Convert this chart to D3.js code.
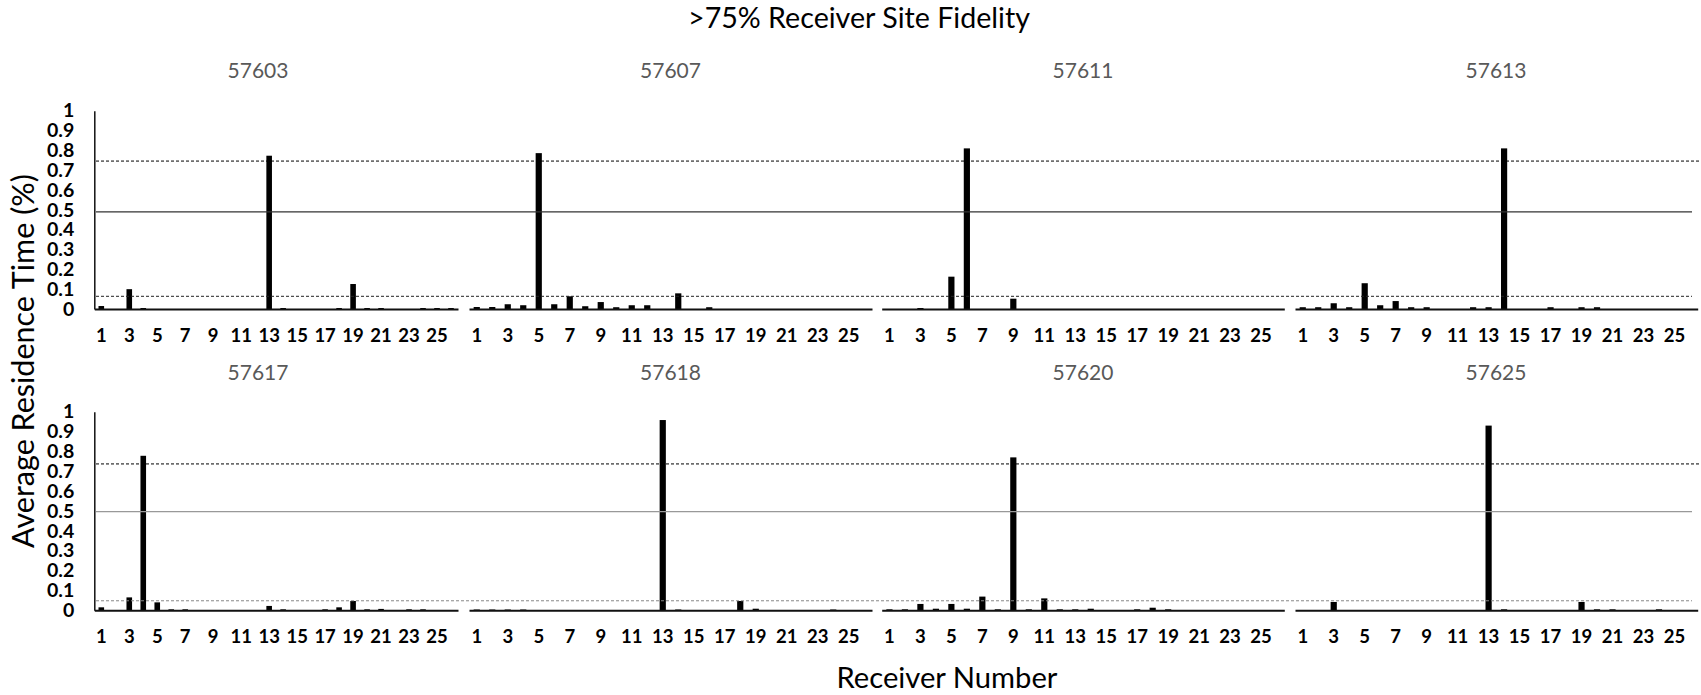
<!DOCTYPE html>
<html>
<head>
<meta charset="utf-8">
<script src="https://cdn.jsdelivr.net/npm/d3@7"></script>
<style>
  html, body { margin: 0; padding: 0; background: #fff; }
  svg { display: block; font-family: Lato, "Open Sans", sans-serif; }
</style>
</head>
<body>
<svg id="chart" width="1701" height="695"></svg>
<script>
// ---------------- data ----------------
const receivers = d3.range(1, 27);                 // receiver numbers 1..26
const tickLabels = [1, 3, 5, 7, 9, 11, 13, 15, 17, 19, 21, 23, 25];
const yTicks = [0, 0.1, 0.2, 0.3, 0.4, 0.5, 0.6, 0.7, 0.8, 0.9, 1];
const fishIds = ["57603", "57607", "57611", "57613", "57617", "57618", "57620", "57625"];

const v57603 = [0.015,0,0.10,0.005,0,0,0,0,0,0,0,0,0.773,0.005,0,0,0,0.005,0.126,0.005,0.005,0,0,0.005,0.005,0.005];
const v57607 = [0.01,0.01,0.024,0.019,0.786,0.024,0.064,0.014,0.035,0.009,0.019,0.019,0,0.079,0,0.009,0,0,0,0,0,0,0,0,0,0];
const v57611 = [0,0,0.005,0,0.163,0.81,0,0,0.052,0,0,0,0,0,0,0,0,0,0,0,0,0,0,0,0,0];
const v57613 = [0.009,0.009,0.029,0.009,0.13,0.019,0.04,0.009,0.009,0,0,0.009,0.009,0.81,0,0,0.009,0,0.009,0.009,0,0,0,0,0,0];
const v57617 = [0.015,0,0.065,0.778,0.04,0.005,0.005,0,0,0,0,0,0.022,0.005,0,0,0.005,0.015,0.047,0.005,0.007,0,0.005,0.005,0,0];
const v57618 = [0.004,0.004,0.004,0.004,0,0,0,0,0,0,0,0,0.958,0.004,0,0,0,0.047,0.008,0,0,0,0,0.004,0,0];
const v57620 = [0.005,0.005,0.032,0.008,0.032,0.008,0.069,0.005,0.77,0.005,0.06,0.005,0.005,0.008,0,0,0.005,0.013,0.005,0,0,0,0,0,0,0];
const v57625 = [0,0,0.042,0,0,0,0,0,0,0,0,0,0.93,0.005,0,0,0,0,0.042,0.005,0.005,0,0,0.005,0,0];
const seriesValues = [v57603, v57607, v57611, v57613, v57617, v57618, v57620, v57625];

// reference lines per row: [upper dashed, solid, lower dashed]
const refTop = [0.746, 0.49, 0.064];
const refBottom = [0.737, 0.497, 0.048];

// ---------------- layout ----------------
const svg = d3.select("#chart");
const colX = [[94.3, 458], [469, 872], [881.7, 1284.3], [1295, 1697.7]];
const rowY = [[309, 110.7], [610.3, 411.7]];   // [y(0), y(1)]
const panelTitleX = [258, 670.5, 1083, 1496];
const panelTitleY = [78, 380];

function fitText(sel, w) {
  const node = sel.node();
  let fs = parseFloat(sel.attr("font-size"));
  const len = node.getComputedTextLength();
  sel.attr("font-size", (fs * w / len).toFixed(2));
}

fishIds.forEach((id, i) => {
  const row = Math.floor(i / 4), col = i % 4;
  const [x0, x1] = colX[col];
  const [yb, yt] = rowY[row];
  const x = d3.scaleBand().domain(receivers).range([x0, x1]).paddingInner(0.6).paddingOuter(0.3);
  const y = d3.scaleLinear().domain([0, 1]).range([yb, yt]);
  const data = receivers.map((r, k) => ({ r, v: seriesValues[i][k] }));
  const g = svg.append("g");

  // bars
  g.selectAll("rect").data(data.filter(d => d.v > 0)).join("rect")
    .attr("x", d => x(d.r))
    .attr("width", x.bandwidth())
    .attr("y", d => y(d.v))
    .attr("height", d => y(0) - y(d.v))
    .attr("fill", "#000");

  // x axis
  const xa = g.append("g").attr("transform", `translate(0,${yb})`)
    .call(d3.axisBottom(x).tickValues(tickLabels).tickSize(0).tickSizeOuter(0).tickPadding(20));
  xa.select(".domain").attr("stroke", "#111").attr("stroke-width", 2);
  xa.selectAll("text").attr("font-family", "Lato, sans-serif").attr("font-weight", "bold")
    .attr("font-size", 18.5).attr("fill", "#000");

  // y axis on first column
  if (col === 0) {
    const ya = g.append("g").attr("transform", `translate(${x0},0)`)
      .call(d3.axisLeft(y).tickValues(yTicks).tickSize(0).tickSizeOuter(0).tickPadding(20)
        .tickFormat(d => (d === 0 || d === 1) ? String(d) : d3.format(".1f")(d)));
    ya.select(".domain").attr("stroke", "#111").attr("stroke-width", 1.5);
    ya.selectAll("text").attr("font-family", "Lato, sans-serif").attr("font-weight", "bold")
      .attr("font-size", 19.5).attr("fill", "#000");
  }

  // panel title
  svg.append("text").attr("x", panelTitleX[col]).attr("y", panelTitleY[row])
    .attr("text-anchor", "middle").attr("font-size", 21).attr("fill", "#595959")
    .text(id);
});

// reference lines across each row
[refTop, refBottom].forEach((refs, row) => {
  const [yb, yt] = rowY[row];
  const y = d3.scaleLinear().domain([0, 1]).range([yb, yt]);
  const styles = row === 0
    ? [{ c: "#000", dash: "3,2", x2: 1701 }, { c: "#333", dash: null, x2: 1692 }, { c: "#222", dash: "3,2", x2: 1692 }]
    : [{ c: "#000", dash: "3,2", x2: 1701 }, { c: "#999", dash: null, x2: 1692 }, { c: "#888", dash: "3,2", x2: 1692 }];
  refs.forEach((v, k) => {
    svg.append("line")
      .attr("x1", 96).attr("x2", styles[k].x2)
      .attr("y1", y(v)).attr("y2", y(v))
      .attr("stroke", styles[k].c).attr("stroke-width", k === 1 ? 1.4 : 1)
      .attr("stroke-dasharray", styles[k].dash);
  });
});

// titles
const t = svg.append("text").attr("x", 859).attr("y", 28).attr("text-anchor", "middle")
  .attr("font-size", 26).attr("fill", "#000").text(">75% Receiver Site Fidelity");
fitText(t, 342);

const xt = svg.append("text").attr("x", 947).attr("y", 688).attr("text-anchor", "middle")
  .attr("font-size", 25).attr("fill", "#000").text("Receiver Number");
fitText(xt, 221);

const yt = svg.append("text").attr("transform", "translate(34,361) rotate(-90)")
  .attr("text-anchor", "middle").attr("font-size", 25).attr("fill", "#000")
  .text("Average Residence Time (%)");
fitText(yt, 374);
</script>
</body>
</html>
